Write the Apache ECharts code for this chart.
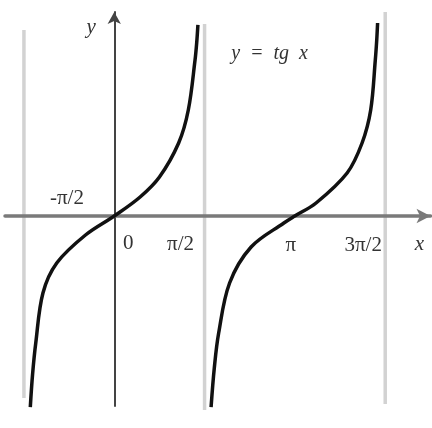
<!DOCTYPE html>
<html>
<head>
<meta charset="utf-8">
<script src="https://cdn.jsdelivr.net/npm/echarts@6/dist/echarts.min.js"></script>
<style>
  html, body { margin: 0; padding: 0; background: #fff; }
  #chart { width: 432px; height: 428px; }
</style>
</head>
<body>
<div id="chart"></div>
<script>
const PI = Math.PI;

// Tick positions on the x axis (radians) and their labels
const tickValues = [-PI / 2, 0, PI / 2, PI, 3 * PI / 2];
const tickLabels = ['-π/2', '0', 'π/2', 'π', '3π/2'];

// Vertical asymptotes and how far each guide line runs
const asymptoteX = [-PI / 2, PI / 2, 3 * PI / 2];
const asymptoteTop = [4.65, 4.8, 5.1];
const asymptoteBottom = [-4.55, -4.85, -4.7];

// Branch of y = tg x around 0
const branch1X = [-1.46, -1.42, -1.365, -1.24, -1.0, -0.5, 0, 0.45, 0.786, 1.12, 1.288, 1.405, 1.435, 1.455];
const branch1Y = [-4.78, -3.95, -3.175, -1.925, -1.175, -0.475, 0, 0.475, 0.975, 1.825, 2.65, 3.9, 4.35, 4.78];

// Branch of y = tg x around π
const branch2X = [1.684, 1.74, 1.816, 2.006, 2.38, 2.95, 3.14, 3.51, 4.05, 4.31, 4.46, 4.54, 4.565, 4.58];
const branch2Y = [-4.78, -3.8, -2.925, -1.675, -0.775, -0.175, 0, 0.325, 1.075, 1.825, 2.65, 3.9, 4.4, 4.825];

const titleText = 'y  =  tg  x';
const xName = 'x';
const yName = 'y';

const zip = (xs, ys) => xs.map((x, i) => [x, ys[i]]);

const chart = echarts.init(document.getElementById('chart'));

const asymptoteSeries = asymptoteX.map((x, i) => ({
  type: 'line',
  data: [[x, asymptoteTop[i]], [x, asymptoteBottom[i]]],
  symbol: 'none',
  clip: false,
  silent: true,
  z: 1,
  lineStyle: { color: '#d2d2d2', width: 3.5 }
}));

const branchStyle = {
  type: 'line',
  symbol: 'none',
  smooth: 0.35,
  clip: false,
  z: 5,
  lineStyle: { color: '#111', width: 3.5 }
};

chart.setOption({
  animation: false,
  backgroundColor: '#fff',
  grid: { left: 5, right: 1.5, top: 12, bottom: 22 },
  xAxis: {
    type: 'value',
    min: -1.9,
    max: 5.5,
    axisLine: {
      onZero: true,
      symbol: ['none', 'arrow'],
      symbolSize: [11, 14],
      lineStyle: { color: '#7a7a7a', width: 3.5 }
    },
    axisTick: { show: false },
    axisLabel: { show: false },
    splitLine: { show: false },
    z: 3
  },
  yAxis: {
    type: 'value',
    min: -4.75,
    max: 5.1,
    axisLine: {
      onZero: true,
      symbol: ['none', 'arrow'],
      symbolSize: [10, 12],
      lineStyle: { color: '#444', width: 2 }
    },
    axisTick: { show: false },
    axisLabel: { show: false },
    splitLine: { show: false },
    z: 3
  },
  series: [
    ...asymptoteSeries,
    Object.assign({ data: zip(branch1X, branch1Y) }, branchStyle),
    Object.assign({ data: zip(branch2X, branch2Y) }, branchStyle)
  ]
});

// Text labels placed relative to the axis positions they describe
const font = '21px "Liberation Serif", "DejaVu Serif", serif';
const labelOffsets = [[43, -18], [14, 27], [-24, 28], [-4, 29], [-22, 29]];
const texts = tickLabels.map((t, i) => {
  const p = chart.convertToPixel({ gridIndex: 0 }, [tickValues[i], 0]);
  return {
    type: 'text',
    x: p[0] + labelOffsets[i][0],
    y: p[1] + labelOffsets[i][1],
    style: { text: t, font: font, fill: '#333', align: 'center', verticalAlign: 'middle' }
  };
});

const origin = chart.convertToPixel({ gridIndex: 0 }, [0, 0]);
const xEnd = chart.convertToPixel({ gridIndex: 0 }, [5.5, 0]);
const yEnd = chart.convertToPixel({ gridIndex: 0 }, [0, 5.1]);

texts.push({
  type: 'text', x: xEnd[0] - 11, y: origin[1] + 28,
  style: { text: xName, font: 'italic ' + font, fill: '#333', align: 'center', verticalAlign: 'middle' }
});
texts.push({
  type: 'text', x: yEnd[0] - 23, y: yEnd[1] + 15,
  style: { text: yName, font: 'italic ' + font, fill: '#333', align: 'center', verticalAlign: 'middle' }
});
const titleAnchor = chart.convertToPixel({ gridIndex: 0 }, [PI / 2, 0]);
texts.push({
  type: 'text', x: titleAnchor[0] + 65, y: yEnd[1] + 42,
  style: { text: titleText, font: 'italic 20px "Liberation Serif", "DejaVu Serif", serif', fill: '#333', align: 'center', verticalAlign: 'middle' }
});

chart.setOption({ graphic: { elements: texts } });
</script>
</body>
</html>
